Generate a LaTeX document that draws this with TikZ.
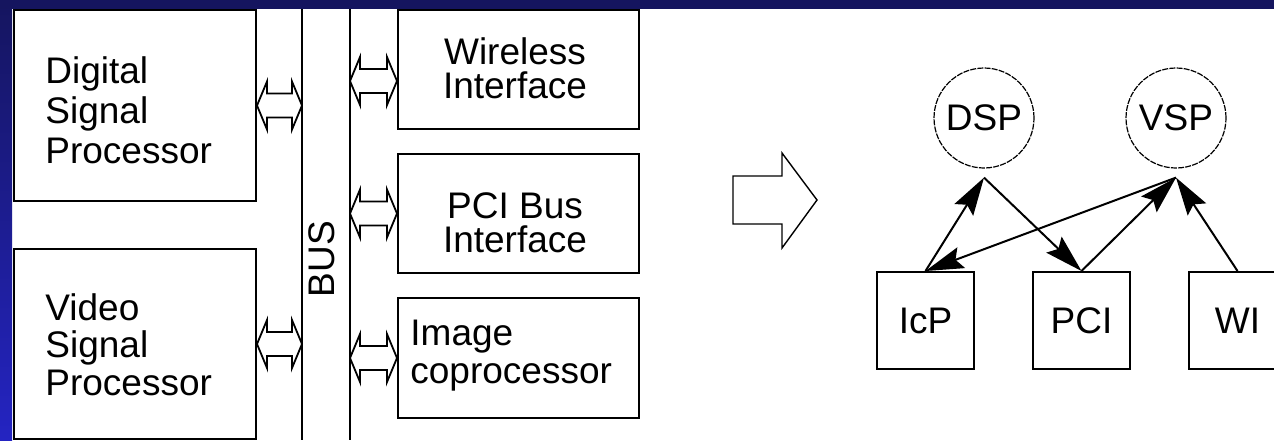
\documentclass[tikz,border=0pt]{standalone}
\usepackage{fontspec}
\setmainfont{Liberation Sans}
\usetikzlibrary{calc,arrows.meta,positioning}
\definecolor{slidenavy}{HTML}{15155F}
\definecolor{slideblue}{HTML}{2424C2}

% hollow two-headed bus arrow between two points on one level
\newcommand\busarrow[2]{%
  \draw[hollow] (#1) -- ++(10,-24) -- ++(0,12) -- ($(#2)+(-10,-12)$) -- ++(0,-12)
    -- (#2) -- ++(-10,24) -- ++(0,-12) -- ($(#1)+(10,12)$) -- ++(0,12) -- cycle;}

\begin{document}
\begin{tikzpicture}[x=0.5pt, y=-0.5pt,
    blk/.style={draw, line width=1pt, anchor=north west, inner sep=0pt},
    lbl/.style={font=\fontsize{18.5}{20}\selectfont, inner sep=0pt},
    hollow/.style={draw, line width=0.9pt, fill=white, line join=miter},
    gcirc/.style={circle, draw, line width=0.6pt, dash pattern=on 3pt off 0.6pt, minimum size=50pt, inner sep=0pt, font=\fontsize{18.5}{20}\selectfont},
    gbox/.style={draw, line width=1pt, minimum size=48.5pt, inner sep=0pt, font=\fontsize{18.5}{20}\selectfont},
    edge/.style={-{Stealth[length=19pt,width=11pt,inset=3pt]}, line width=1pt},
]
\clip (0,0) rectangle (1274,440);
% slide background
\fill[white] (0,0) rectangle (1274,440);
\shade[top color=slidenavy, bottom color=slideblue] (0,0) rectangle (12,440);
\fill[slidenavy] (0,0) rectangle (1274,9);

% left: processors on the bus
\node[blk, minimum width=121pt, minimum height=95.5pt] (dspb) at (13,9) {};
\node[blk, minimum width=121pt, minimum height=95pt] (vspb) at (13,248) {};
\node[lbl, align=left, anchor=base west] (dsptxt) at (45,163) {Digital\\Signal\\Processor};
\node[lbl, align=left, anchor=base west, font=\fontsize{18.5}{18.75}\selectfont] (vsptxt) at (45,395) {Video\\Signal\\Processor};

% bus
\coordinate (busLt) at (302,9);
\coordinate (busLb) at (302,440);
\coordinate (busRt) at (350,9);
\coordinate (busRb) at (350,440);
\draw[line width=1pt] (busLt) -- (busLb);
\draw[line width=1pt] (busRt) -- (busRb);
\node[lbl, rotate=90] (buslbl) at (322,259) {BUS};

% right: interfaces
\node[blk, minimum width=120.5pt, minimum height=59.5pt] (wib) at (397,9) {};
\node[blk, minimum width=120.5pt, minimum height=59.5pt] (pcib) at (397,153) {};
\node[blk, minimum width=120.5pt, minimum height=60pt] (icb) at (397,297) {};
\node[lbl, align=center, anchor=base, font=\fontsize{18.5}{17}\selectfont] (witxt) at (515,98) {Wireless\\Interface};
\node[lbl, align=center, anchor=base, font=\fontsize{18.5}{17}\selectfont] (pcitxt) at (515,252) {PCI Bus\\Interface};
\node[lbl, align=left, anchor=base west, font=\fontsize{18.5}{19}\selectfont] (ictxt) at (410,383) {Image\\coprocessor};

% bus arrows
\coordinate (a1) at (busLt |- dspb.east);
\coordinate (a2) at (busLt |- vspb.east);
\coordinate (b1) at (350,81);
\coordinate (b2) at (busRt |- pcib.west);
\coordinate (b3) at (busRt |- icb.west);
\busarrow{dspb.east}{a1}
\busarrow{vspb.east}{a2}
\busarrow{b1}{wib.west |- b1}
\busarrow{b2}{pcib.west}
\busarrow{b3}{icb.west}

% mapping arrow
\draw[hollow, line width=0.7pt] (733,176) -- (782,176) -- (782,153) -- (817,200)
  -- (782,248) -- (782,224) -- (733,224) -- cycle;

% right: task graph
\node[gcirc] (dsp) at (984,118) {DSP};
\node[gcirc] (vsp) at (1176,118) {VSP};
\node[gbox] (icp) at (925.5,320.5) {IcP};
\node[gbox] (pci) at (1081.5,320.5) {PCI};
\node[gbox] (wi) at (1237.5,320.5) {WI};
\coordinate (dsp0) at ([yshift=-4.5pt]dsp.south);
\coordinate (vsp0) at ([yshift=-4.5pt]vsp.south);

\draw[edge] (icp.north) -- (dsp0);
\draw[edge] (dsp0) -- (pci.north);
\draw[edge] (vsp0) -- (icp.north);
\draw[edge] (pci.north) -- (vsp0);
\draw[edge] (wi.north) -- (vsp0);
\end{tikzpicture}
\end{document}
